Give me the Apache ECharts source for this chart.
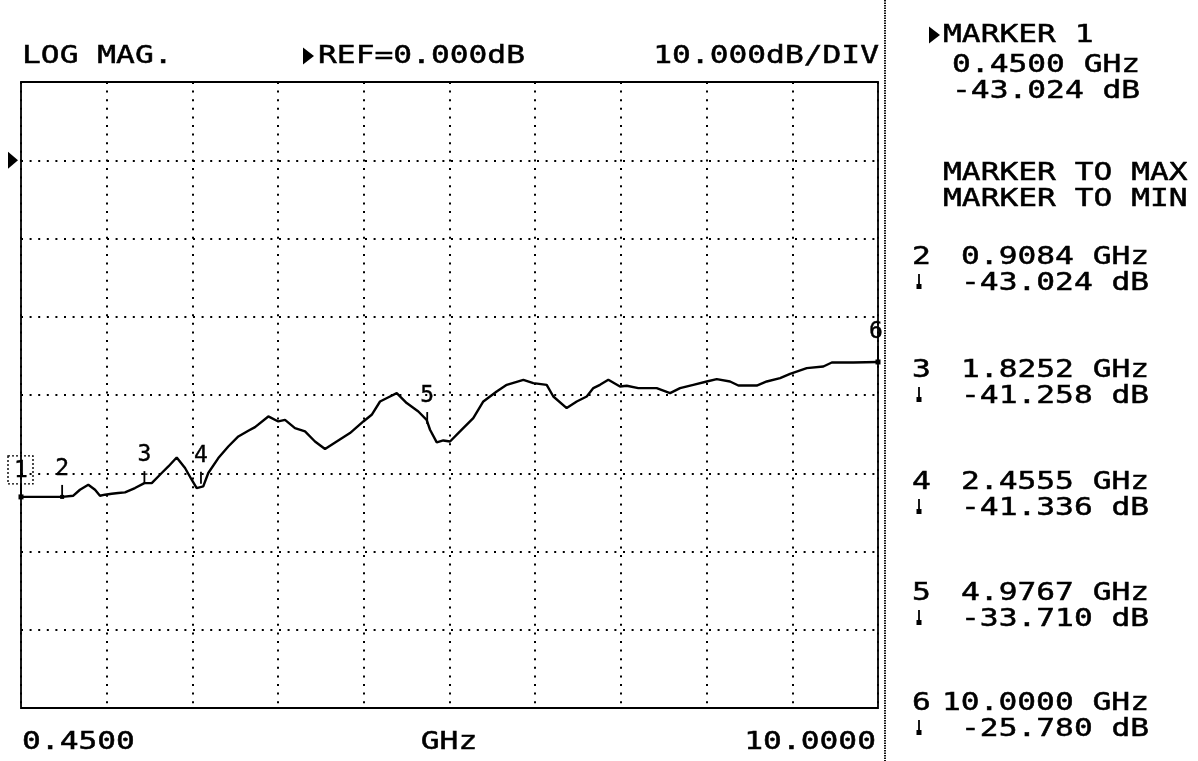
<!DOCTYPE html>
<html>
<head>
<meta charset="utf-8">
<script src="https://cdn.jsdelivr.net/npm/echarts@6/dist/echarts.min.js"></script>
<style>
html,body{margin:0;padding:0;background:#fff;}
#chart{width:1198px;height:761px;}
</style>
</head>
<body>
<div id="chart"></div>
<script>
// ---- data ----
const traceFreqGHz = [0.4500, 0.9084, 1.033, 1.107, 1.200, 1.275, 1.330, 1.386, 1.461, 1.534, 1.609, 1.720, 1.8252, 1.907, 2.018, 2.092, 2.185, 2.278, 2.352, 2.408, 2.481, 2.537, 2.649, 2.760, 2.872, 2.983, 3.058, 3.206, 3.317, 3.392, 3.503, 3.615, 3.726, 3.838, 3.968, 4.116, 4.265, 4.358, 4.451, 4.562, 4.637, 4.748, 4.878, 4.970, 5.008, 5.083, 5.156, 5.231, 5.342, 5.490, 5.602, 5.751, 5.863, 6.048, 6.159, 6.308, 6.382, 6.531, 6.643, 6.754, 6.828, 6.902, 6.995, 7.125, 7.200, 7.329, 7.534, 7.683, 7.794, 7.942, 8.092, 8.203, 8.351, 8.444, 8.649, 8.760, 8.909, 9.020, 9.206, 9.391, 9.485, 9.725, 10.000];
const traceMagDb = [-43.024, -43.024, -42.87, -42.11, -41.47, -42.11, -42.87, -42.74, -42.62, -42.53, -42.45, -41.89, -41.258, -41.25, -39.97, -39.13, -37.98, -39.33, -40.83, -41.89, -41.68, -39.97, -38.06, -36.58, -35.30, -34.57, -34.10, -32.74, -33.38, -33.17, -34.23, -34.66, -35.94, -36.91, -35.94, -34.87, -33.38, -32.53, -30.83, -30.19, -29.76, -31.03, -32.11, -33.17, -34.44, -36.06, -35.81, -35.94, -34.66, -32.95, -30.83, -29.55, -28.70, -28.06, -28.48, -28.70, -30.19, -31.67, -30.83, -30.19, -29.12, -28.70, -28.06, -28.91, -28.82, -29.12, -29.12, -29.76, -29.12, -28.70, -28.27, -27.97, -28.27, -28.79, -28.79, -28.27, -27.84, -27.29, -26.56, -26.36, -25.85, -25.85, -25.78];
const markerNames = ['1', '2', '3', '4', '5', '6'];
const markerFreqGHz = [0.4500, 0.9084, 1.8252, 2.4555, 4.9767, 10.0000];
const markerMagDb = [-43.024, -43.024, -41.258, -41.336, -33.710, -25.780];
const startFreqLabel = '0.4500';
const stopFreqLabel = '10.0000';
const freqUnitLabel = 'GHz';
const headerLabels = ['LOG MAG.', 'REF=0.000dB', '10.000dB/DIV'];
const refLevelDb = 0;
const scaleDbPerDiv = 10;
const yDivisionsAbove = 1, yDivisionsBelow = 7;
const xDivisions = 10;

// ---- layout ----
const FONT = '"DejaVu Sans Mono", "Liberation Mono", monospace';
const SX = 1.25;
const GL = 21, GT = 82, GW = 857, GH = 626;

const chart = echarts.init(document.getElementById('chart'), null, {renderer: 'canvas'});

function txt(text, x, y, align, size) {
  return {
    type: 'text', x: x, y: y, scaleX: SX, scaleY: 1, z: 10,
    style: {
      text: text, font: (size || 25) + 'px ' + FONT, fill: '#000',
      stroke: '#000', lineWidth: 0.5,
      align: align || 'left', verticalAlign: 'middle',
      textAlign: align || 'left', textVerticalAlign: 'middle'
    }
  };
}
function tri(x, y, w, h) {
  return {type: 'polygon', z: 10, shape: {points: [[x, y - h / 2], [x + w, y], [x, y + h / 2]]}, style: {fill: '#000'}};
}
function downArrow(x, y) {
  return {type: 'group', z: 10, children: [
    {type: 'line', shape: {x1: x, y1: y - 9, x2: x, y2: y + 4}, style: {stroke: '#000', lineWidth: 1.8}},
    {type: 'rect', shape: {x: x - 2.5, y: y + 1, width: 5, height: 5}, style: {fill: '#000'}}
  ]};
}

const graphics = [];
// header
graphics.push(txt(headerLabels[0], 22, 56));
graphics.push(tri(303, 56, 11, 17));
graphics.push(txt(headerLabels[1], 318, 56));
graphics.push(txt(headerLabels[2], 879, 56, 'right'));
// bottom labels
graphics.push(txt(startFreqLabel, 22, 742));
graphics.push(txt(freqUnitLabel, 449, 742, 'center'));
graphics.push(txt(stopFreqLabel, 876, 742, 'right'));
// separator
graphics.push({type: 'line', z: 5, shape: {x1: 885, y1: 0, x2: 885, y2: 761}, style: {stroke: '#111', lineWidth: 2, lineDash: [1.5, 1]}});
// right panel
graphics.push(tri(929, 35, 11, 17));
graphics.push(txt('MARKER ' + markerNames[0], 943, 35));
graphics.push(txt(markerFreqGHz[0].toFixed(4) + ' ' + freqUnitLabel, 952, 65));
graphics.push(txt(markerMagDb[0].toFixed(3) + ' dB', 952, 91));
graphics.push(txt('MARKER TO MAX', 943, 173));
graphics.push(txt('MARKER TO MIN', 943, 199));
const panelY = [null, 257, 370, 482, 593, 703];
for (let i = 1; i < markerNames.length; i++) {
  const y = panelY[i];
  const f = markerFreqGHz[i].toFixed(4);
  graphics.push(txt(markerNames[i], 912, y));
  graphics.push(txt(f + ' ' + freqUnitLabel, f.length > 6 ? 942 : 961, y));
  graphics.push(downArrow(919, y + 26));
  graphics.push(txt(markerMagDb[i].toFixed(3) + ' dB', 961, y + 26));
}

const yMin = refLevelDb - yDivisionsBelow * scaleDbPerDiv;
const yMax = refLevelDb + yDivisionsAbove * scaleDbPerDiv;

const dotted = {show: true, lineStyle: {color: '#000', width: 2, type: [2, 6.6]}};

const option = {
  animation: false,
  backgroundColor: '#fff',
  grid: {left: GL, top: GT, width: GW, height: GH, show: true, borderColor: '#000', borderWidth: 1.8, backgroundColor: 'transparent'},
  xAxis: [
    {type: 'value', min: 0, max: xDivisions, interval: 1, axisLabel: {show: false}, axisTick: {show: false}, axisLine: {show: false}, splitLine: dotted},
    {type: 'value', min: markerFreqGHz[0], max: markerFreqGHz[markerFreqGHz.length - 1], show: false, splitLine: {show: false}}
  ],
  yAxis: [
    {type: 'value', min: yMin, max: yMax, interval: scaleDbPerDiv, axisLabel: {show: false}, axisTick: {show: false}, axisLine: {show: false}, splitLine: dotted}
  ],
  graphic: graphics,
  series: [
    {
      type: 'line', xAxisIndex: 1, yAxisIndex: 0,
      data: traceFreqGHz.map((f, i) => [f, traceMagDb[i]]),
      showSymbol: false, symbol: 'none',
      lineStyle: {color: '#000', width: 2.4}, z: 3
    },
    {
      type: 'custom', xAxisIndex: 1, yAxisIndex: 0, z: 4, clip: false,
      data: markerFreqGHz.map((f, i) => [f, markerMagDb[i]]),
      renderItem: function (params, api) {
        const i = params.dataIndex;
        const p = api.coord([api.value(0), api.value(1)]);
        const font = '23px ' + FONT;
        const ts = {font: font, fill: '#000', stroke: '#000', lineWidth: 0.4, align: 'center', verticalAlign: 'middle'};
        const children = [];
        if (i === 0) {
          children.push({type: 'rect', shape: {x: p[0] - 13, y: p[1] - 41, width: 25, height: 28}, style: {fill: 'none', stroke: '#000', lineWidth: 1.4, lineDash: [2, 2]}});
          children.push({type: 'text', style: Object.assign({text: markerNames[i], x: p[0], y: p[1] - 26}, ts)});
          children.push({type: 'line', shape: {x1: p[0], y1: p[1] - 13, x2: p[0], y2: p[1]}, style: {stroke: '#000', lineWidth: 2}});
          children.push({type: 'rect', shape: {x: p[0] - 2.5, y: p[1] - 2.5, width: 5, height: 5}, style: {fill: '#000'}});
        } else if (i === markerNames.length - 1) {
          children.push({type: 'text', style: Object.assign({text: markerNames[i], x: p[0] - 2, y: p[1] - 30}, ts)});
          children.push({type: 'line', shape: {x1: p[0], y1: p[1] - 16, x2: p[0], y2: p[1]}, style: {stroke: '#000', lineWidth: 2}});
          children.push({type: 'rect', shape: {x: p[0] - 2.5, y: p[1] - 2.5, width: 5, height: 5}, style: {fill: '#000'}});
        } else {
          children.push({type: 'text', style: Object.assign({text: markerNames[i], x: p[0], y: p[1] - 28}, ts)});
          children.push({type: 'line', shape: {x1: p[0], y1: p[1] - 12, x2: p[0], y2: p[1]}, style: {stroke: '#000', lineWidth: 1.8}});
          if (i === 2) children.push({type: 'line', shape: {x1: p[0] - 3, y1: p[1] - 9, x2: p[0] + 3, y2: p[1] - 9}, style: {stroke: '#000', lineWidth: 1.3}});
          if (i === 1) children.push({type: 'rect', shape: {x: p[0] - 2, y: p[1] - 2, width: 4, height: 4}, style: {fill: '#000'}});
        }
        return {type: 'group', children: children};
      }
    }
  ]
};
chart.setOption(option);

// reference level arrow on the left of the graticule
const refY = chart.convertToPixel({yAxisIndex: 0}, refLevelDb);
chart.setOption({graphic: graphics.concat([tri(8, refY, 10, 17)])});
</script>
</body>
</html>
